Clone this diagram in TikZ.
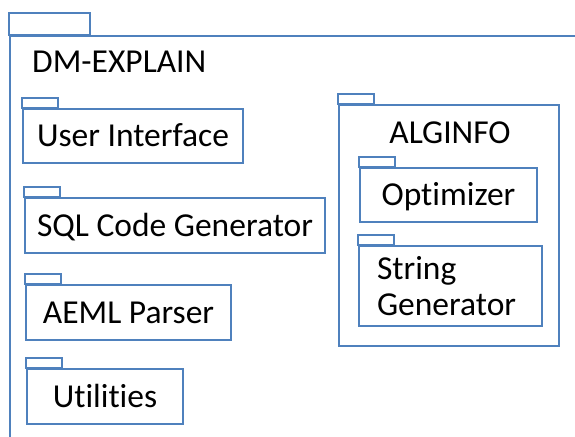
\documentclass[tikz,border=0pt]{standalone}
\usepackage{fontspec}
\setmainfont{Carlito}[Ligatures=NoCommon]
\definecolor{pkgblue}{HTML}{4F81BD}
\tikzset{
  pkgline/.style={draw=pkgblue, line width=1.7pt},
  pkg/.style={pkgline, inner sep=0pt, align=center,
    font=\fontsize{33.5}{36}\selectfont, text height=21pt, text depth=0pt},
  lbl/.style={inner sep=0pt, font=\fontsize{33.5}{36}\selectfont},
}
\begin{document}
\begin{tikzpicture}[x=1pt,y=-1pt]
\useasboundingbox (0,0) rectangle (575,436);
% outer package
\node[pkgline, minimum width=580pt, minimum height=414pt, inner sep=0pt] (dm) at (300,243) {};
\draw[pkgline] (dm.north west) rectangle ++(81,-22);
\node[lbl, anchor=base west] (dmtitle) at (32,73) {DM-EXPLAIN};
% left packages
\node[pkg, minimum width=220pt, minimum height=54pt] (ui) at (133,136) {User Interface};
\draw[pkgline] (ui.north west) rectangle ++(36,-10.5);
\node[pkg, minimum width=300pt, minimum height=55pt] (sql) at (175,225.5) {SQL Code Generator};
\draw[pkgline] (sql.north west) rectangle ++(36,-10.5);
\node[pkg, minimum width=205pt, minimum height=55pt] (aeml) at (128.5,312.5) {AEML Parser};
\draw[pkgline] (aeml.north west) rectangle ++(36,-10.5);
\node[pkg, minimum width=156pt, minimum height=55pt] (util) at (105,396.5) {Utilities};
\draw[pkgline] (util.north west) rectangle ++(36,-10.5);
% ALGINFO package
\node[pkgline, minimum width=220pt, minimum height=241pt, inner sep=0pt] (alg) at (449,225.5) {};
\draw[pkgline] (alg.north west) rectangle ++(36,-10.5);
\node[lbl, anchor=base] (algtitle) at (450,143) {ALGINFO};
\node[pkg, minimum width=177pt, minimum height=54pt] (opt) at (448.5,195) {Optimizer};
\draw[pkgline] (opt.north west) rectangle ++(36,-10.5);
\node[pkgline, inner ysep=0pt, inner xsep=18pt, text width=147pt, align=left,
  minimum height=80pt, font=\fontsize{33.5}{36}\selectfont] (strgen) at (450.5,286) {String\\Generator};
\draw[pkgline] (strgen.north west) rectangle ++(36,-10.5);
\end{tikzpicture}
\end{document}
